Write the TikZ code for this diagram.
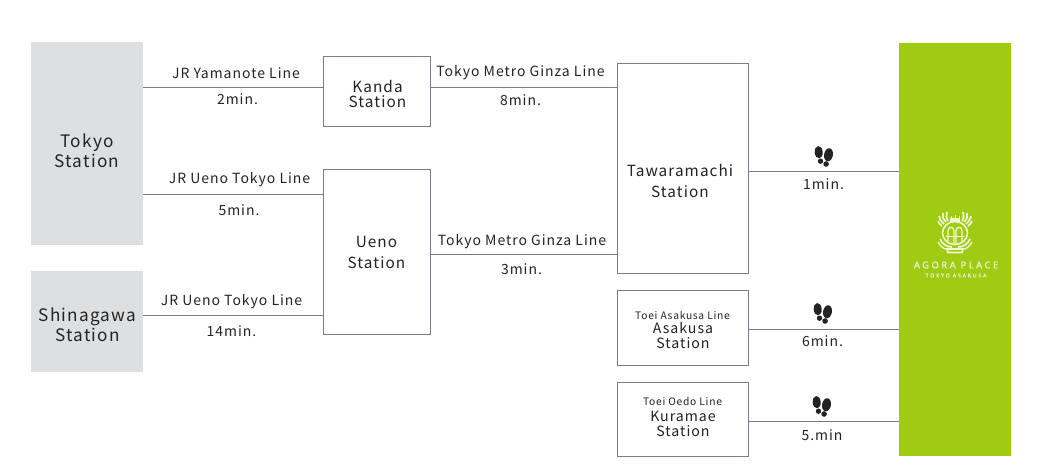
\documentclass[tikz,border=0pt]{standalone}
\usepackage{fontspec}
\setmainfont[LetterSpace=7]{Noto Sans CJK JP}
\newfontfamily\logofont[LetterSpace=27,FakeBold=0.4]{Noto Sans}
\newfontfamily\logosubfont[LetterSpace=36,FakeBold=0.4]{Noto Sans}
\definecolor{linegray}{RGB}{118,124,140}
\definecolor{stationgray}{RGB}{222,223,225}
\definecolor{agoragreen}{RGB}{159,204,18}
\definecolor{textgray}{RGB}{35,35,35}
\definecolor{logowhite}{RGB}{240,246,214}
\tikzset{
	stationbox/.style={draw=linegray,line width=0.75pt,fill=white,inner sep=0pt},
	originbox/.style={fill=stationgray,inner sep=0pt},
	stationname/.style={align=center,text=textgray,inner sep=0pt,font=\fontsize{11.5}{15.75}\selectfont},
	originname/.style={align=center,text=textgray,inner sep=0pt,font=\fontsize{12.9}{15}\selectfont},
	subname/.style={align=center,text=textgray,inner sep=0pt,font=\fontsize{10.6}{11.25}\selectfont},
	conn/.style={draw=linegray,line width=0.75pt},
	linelabel/.style={text=textgray,inner sep=0pt,font=\fontsize{10.5}{12}\selectfont},
	smalllabel/.style={text=textgray,inner sep=0pt,font=\fontsize{7.7}{9}\selectfont},
}
\begin{document}
\begin{tikzpicture}[x=0.75pt,y=0.75pt,yscale=-1,xscale=1]
	\useasboundingbox (0,0) rectangle (1038,474);
	% origins
	\node [originbox,minimum width=84pt,minimum height=152.25pt] (tokyo) at (87,143.5) {};
	\node [originbox,minimum width=84pt,minimum height=75.75pt] (shinagawa) at (87,321.5) {};
	\node [originname] (tokyoname) at (87,151) {Tokyo\\Station};
	\node [originname] (shinagawaname) at (87.5,325) {Shinagawa\\Station};
	% middle stations
	\node [stationbox,minimum width=80.75pt,minimum height=52.5pt] (kanda) at (377,91.3) {};
	\node [stationbox,minimum width=80.75pt,minimum height=123.75pt] (ueno) at (377,251.8) {};
	\node [stationbox,minimum width=98.25pt,minimum height=156.75pt] (tawaramachi) at (682.5,168.5) {};
	\node [stationbox,minimum width=98.25pt,minimum height=56.25pt] (asakusa) at (682.5,327.6) {};
	\node [stationbox,minimum width=98.25pt,minimum height=55.5pt] (kuramae) at (682.5,419.1) {};
	\node [stationname,font=\fontsize{11.5}{11.25}\selectfont] (kandaname) at (377.5,94) {Kanda\\Station};
	\node [stationname] (uenoname) at (376.5,252) {Ueno\\Station};
	\node [stationname] (tawaramachiname) at (680,181) {Tawaramachi\\Station};
	\node [smalllabel] (asakusaline) at (682.5,315) {Toei Asakusa Line};
	\node [subname] (asakusaname) at (683,335.5) {Asakusa\\Station};
	\node [smalllabel] (kuramaeline) at (682.5,401) {Toei Oedo Line};
	\node [subname] (kuramaename) at (683,423.5) {Kuramae\\Station};
	% goal
	\node [fill=agoragreen,minimum width=84pt,minimum height=309.75pt,inner sep=0pt] (agora) at (955,249.5) {};
	% rails
	\coordinate (railA) at (0,87.5);
	\coordinate (railB) at (0,194.5);
	\coordinate (railC) at (0,315.5);
	\coordinate (railD) at (0,254.5);
	\coordinate (railE) at (0,171.5);
	\coordinate (railF) at (0,329);
	\coordinate (railG) at (0,421);
	\draw [conn] (tokyo.east |- railA) -- (kanda.west |- railA);
	\draw [conn] (kanda.east |- railA) -- (tawaramachi.west |- railA);
	\draw [conn] (tokyo.east |- railB) -- (ueno.west |- railB);
	\draw [conn] (shinagawa.east |- railC) -- (ueno.west |- railC);
	\draw [conn] (ueno.east |- railD) -- (tawaramachi.west |- railD);
	\draw [conn] (tawaramachi.east |- railE) -- (agora.west |- railE);
	\draw [conn] (asakusa.east |- railF) -- (agora.west |- railF);
	\draw [conn] (kuramae.east |- railG) -- (agora.west |- railG);
	% labels
	\node [linelabel] (yamanote) at (236,73) {JR Yamanote Line};
	\node [linelabel] (yamanotemin) at (237.5,99.5) {2min.};
	\node [linelabel] (ginzaA) at (520.5,72.5) {Tokyo Metro Ginza Line};
	\node [linelabel] (ginzaAmin) at (520.5,100.5) {8min.};
	\node [linelabel] (uenotokyo) at (239.5,180) {JR Ueno Tokyo Line};
	\node [linelabel] (uenotokyomin) at (239,210) {5min.};
	\node [linelabel] (uenotokyoB) at (231.5,302) {JR Ueno Tokyo Line};
	\node [linelabel] (uenotokyoBmin) at (231.5,331.5) {14min.};
	\node [linelabel] (ginzaB) at (522,241.5) {Tokyo Metro Ginza Line};
	\node [linelabel] (ginzaBmin) at (521.5,269.5) {3min.};
	\node [linelabel] (walkA) at (823.5,184.5) {1min.};
	\node [linelabel] (walkB) at (822.5,341.5) {6min.};
	\node [linelabel] (walkC) at (822,435.5) {5.min};
	% footprints
	\foreach \fx/\fy in {823.5/156,822.5/313,821.5/406} {
		\begin{scope}[shift={(\fx,\fy)},fill=textgray]
			\fill [shift={(-4.8,-3.8)},rotate=-5] (0,0) ellipse [x radius=4,y radius=6.2];
			\fill (-3,5.2) circle [radius=2.7];
			\fill [shift={(5,-1.2)},rotate=10] (0,0) ellipse [x radius=4.4,y radius=6.6];
			\fill (2.6,8) circle [radius=2.8];
		\end{scope}
	}
	% logo
	\begin{scope}[shift={(955,233)},draw=logowhite,fill=logowhite,line width=0.75pt]
		\draw [line width=1.2pt] (0,0) circle [x radius=12.5,y radius=11.5];
		% monogram
		\draw [line width=1pt] (-7,8) -- (-7,-2) .. controls (-7,-7) and (-1,-7) .. (-1,-2) -- (-1,11);
		\draw [line width=1pt] (7,8) -- (7,-2) .. controls (7,-7) and (1,-7) .. (1,-2) -- (1,11);
		\draw (-9,3) -- (9,3);
		% crown
		\fill (-5,-15) rectangle (5,-11);
		\draw (-4,-17) -- (-4,-15) (0,-18) -- (0,-15) (4,-17) -- (4,-15);
		% leaves
		\foreach \s in {-1,1} {
			\begin{scope}[xscale=\s]
				\draw [line width=1.3pt] (7,-12) .. controls (9,-15) and (9,-18) .. (8,-21);
				\draw [line width=1.3pt] (9,-11) .. controls (12,-14) and (13,-17) .. (12,-20);
				\draw [line width=1.3pt] (11,-9) .. controls (14,-12) and (16,-14) .. (16,-17);
				\draw [line width=1.3pt] (13,-7) .. controls (15,-9) and (17,-10) .. (17,-12);
				% wing
				\draw [line width=1.3pt] (15,6) .. controls (13,11) and (8,14) .. (3,14);
				\draw [line width=1pt] (17,9) .. controls (15,13) and (11,16) .. (9,16);
			\end{scope}
		}
		% ribbon
		\draw [line width=1.2pt] (-8,16) -- (8,16) -- (7,19.5) -- (-7,19.5) -- cycle;
	\end{scope}
	\node [text=logowhite,inner sep=0pt,font=\logofont\fontsize{7}{8}\selectfont] (agoraname) at (956,265) {AGORA PLACE};
	\node [text=logowhite,inner sep=0pt,font=\logosubfont\fontsize{3.85}{4.5}\selectfont] (agorasub) at (956,275.5) {TOKYO ASAKUSA};
\end{tikzpicture}
\end{document}
